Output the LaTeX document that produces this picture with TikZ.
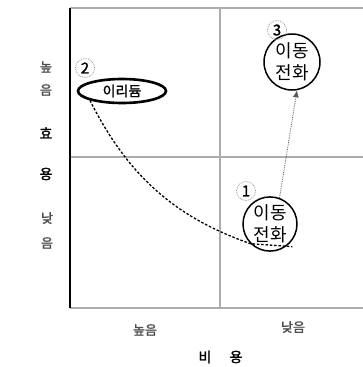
\documentclass[tikz,border=0pt]{standalone}
\usepackage{fontspec}
\setmainfont{Noto Sans CJK KR}
\newfontfamily\krbold[FakeBold=1.5]{Noto Sans CJK KR}
\usetikzlibrary{shapes.geometric,arrows.meta}
\tikzset{
  gridline/.style={draw=gray!65, line width=1.3pt},
  ell/.style={ellipse, draw=black, line width=1.5pt, inner sep=0pt, align=center},
  numc/.style={circle, draw=gray!80, densely dotted, line width=0.8pt, inner sep=0pt, minimum size=19pt, font=\krbold\fontsize{15}{15}\selectfont},
  ticklab/.style={text=black!70, font=\krbold\fontsize{13}{14}\selectfont, align=center, inner sep=0pt},
  axislab/.style={text=black, font=\krbold\fontsize{14}{14}\selectfont, inner sep=0pt},
  dashcurve/.style={draw=black, line width=1.3pt, dash pattern=on 2.5pt off 1.8pt},
  arrowdot/.style={draw=black!65, line width=0.8pt, densely dotted, -{Latex[length=7pt,width=6pt]}}
}
\begin{document}
\begin{tikzpicture}[x=1pt,y=-1pt]
\useasboundingbox (0,0) rectangle (363,367);
% frame
\coordinate (tl) at (70,8);
\coordinate (bl) at (70,308);
\coordinate (tr) at (363,8);
\coordinate (br) at (363,308);
\coordinate (ml) at (70,157);
\coordinate (mr) at (363,157);
\coordinate (mt) at (220,8);
\coordinate (mb) at (220,308);
\draw[gridline] (tl) -- (tr);
\draw[gridline] (bl) -- (br);
\draw[gridline] (ml) -- (mr);
\draw[gridline] (mt) -- (mb);
\draw[black, line width=1.8pt] (tl) -- (bl);
% axis labels
\node[ticklab] (yhi1) at (46,67) {높};
\node[ticklab] (yhi2) at (46,90) {음};
\node[axislab] (ya1) at (46,133) {효};
\node[axislab] (ya2) at (46,174) {용};
\node[ticklab] (ylo1) at (47,218) {낮};
\node[ticklab] (ylo2) at (47,243) {음};
\node[ticklab] (xhi) at (145,330) {높음};
\node[ticklab] (xlo) at (293,327) {낮음};
\node[axislab] (xa1) at (205,357) {비};
\node[axislab] (xa2) at (236,357) {용};
% nodes
\node[ell, line width=2.6pt, minimum width=88pt, minimum height=24pt, font=\krbold\fontsize{14}{14}\selectfont] (irid) at (122,91) {이리듐};
\node[ell, minimum width=56pt, minimum height=56pt, font=\fontsize{18}{22}\selectfont] (m3) at (292,62) {이동\\전화};
\node[ell, minimum width=54pt, minimum height=52pt, font=\fontsize{18}{22}\selectfont] (m1) at (270,224) {이동\\전화};
\node[numc] (n2) at (85,68) {2};
\node[numc] (n3) at (277,30) {3};
\node[numc] (n1) at (246,191) {1};
% connectors
\draw[dashcurve] (irid.south west) .. controls (131,182) and (181,219) .. (m1.south west) -- ++(42,3);
\draw[arrowdot] (m1.70) -- (m3.280);
\end{tikzpicture}
\end{document}
